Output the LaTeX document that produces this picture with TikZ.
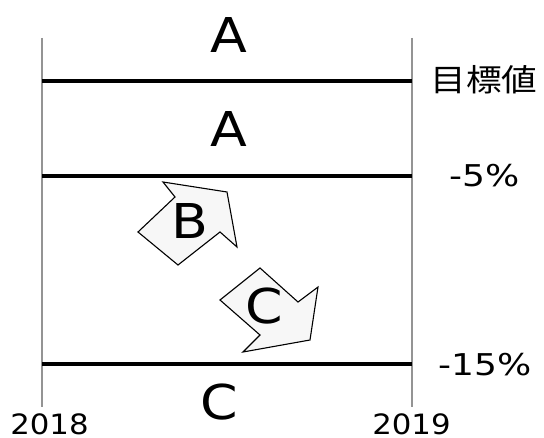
\documentclass[tikz,border=0pt]{standalone}
\usepackage{fontspec}
\setmainfont{DejaVu Sans}
\newfontfamily\cjk{Noto Sans CJK JP}
\newcommand{\wide}[1]{\scalebox{1.12}[1]{#1}}
\begin{document}
\begin{tikzpicture}[x=1pt,y=-1pt,
  vline/.style={draw=black!42,line width=2.8pt},
  hline/.style={draw=black,line width=4pt},
  big/.style={font=\fontsize{48}{48}\selectfont,inner sep=0pt},
  lab/.style={font=\fontsize{30}{30}\selectfont,inner sep=0pt},
  yr/.style={font=\fontsize{28}{28}\selectfont,inner sep=0pt},
  arr/.style={draw=black,line width=1.1pt,fill=black!3,line join=miter}]
\useasboundingbox (0,0) rectangle (544,438);
\coordinate (L0) at (42,38); \coordinate (L1) at (42,407);
\coordinate (R0) at (412,38); \coordinate (R1) at (412,407);
\draw[vline] (L0) -- (L1);
\draw[vline] (R0) -- (R1);
\coordinate (h1l) at (42,81.5); \coordinate (h1r) at (412,81.5);
\coordinate (h2l) at (42,176); \coordinate (h2r) at (412,176);
\coordinate (h3l) at (42,364); \coordinate (h3r) at (412,364);
\draw[hline] (h1l) -- (h1r);
\draw[hline] (h2l) -- (h2r);
\draw[hline] (h3l) -- (h3r);
% arrow B
\draw[arr] (138,232) -- (175,197) -- (163,182) -- (227,192) -- (237,247) -- (220,232) -- (178,265) -- cycle;
% arrow C
\draw[arr] (220,300) -- (260,268) -- (298,302) -- (318,287) -- (310,340) -- (243,352) -- (260,335) -- cycle;
\node[big] (a1) at (228.5,35) {\wide{A}};
\node[big] (a2) at (228.5,129) {\wide{A}};
\node[big] (b) at (189.5,221) {\wide{B}};
\node[big] (c1) at (264,306) {\wide{C}};
\node[big] (c2) at (219,402) {\wide{C}};
\node[font=\cjk\fontsize{31}{31}\selectfont,inner sep=0pt] (t) at (484,80) {\scalebox{1.15}[1]{目標値}};
\node[lab] (p5) at (485,176) {\scalebox{1.2}[1]{-5\%}};
\node[lab] (p15) at (485,364.5) {\scalebox{1.2}[1]{-15\%}};
\node[yr] (y1) at (49.5,424) {\scalebox{1.1}[1]{2018}};
\node[yr] (y2) at (411.5,424) {\scalebox{1.1}[1]{2019}};
\end{tikzpicture}
\end{document}
